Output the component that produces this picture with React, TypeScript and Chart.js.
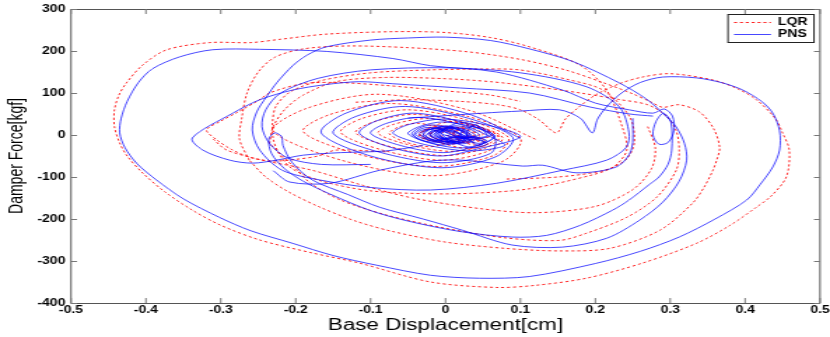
import { useEffect, useRef } from 'react';
import { Chart, registerables } from 'chart.js';

Chart.register(...registerables);

type Pt = [number, number];

const seriesNames = ['LQR', 'PNS'];
const xTickValues = [-0.5, -0.4, -0.3, -0.2, -0.1, 0, 0.1, 0.2, 0.3, 0.4, 0.5];
const yTickValues = [-400, -300, -200, -100, 0, 100, 200, 300];
const xTitle = 'Base Displacement[cm]';
const yTitle = 'Damper Force[kgf]';

// ---- PNS (blue, solid) ----
const pnsOuter: Pt[] = [
  [-0.05, 40], [0.05, 52], [0.1, 57], [0.152, 60], [0.18, 40], [0.196, 5], [0.203, 38], [0.215, 67],
  [0.235, 100], [0.26, 125], [0.29, 138], [0.335, 136], [0.37, 124], [0.397, 107], [0.422, 80],
  [0.437, 52], [0.446, 10], [0.446, -36], [0.437, -76], [0.42, -118], [0.402, -155], [0.36, -200],
  [0.312, -243], [0.26, -277], [0.2, -306], [0.112, -337], [0.045, -341], [-0.02, -334], [-0.092, -310],
  [-0.15, -287], [-0.204, -258], [-0.26, -228], [-0.302, -196], [-0.35, -152], [-0.386, -107],
  [-0.412, -68], [-0.428, -30], [-0.435, 5], [-0.433, 40], [-0.425, 80], [-0.41, 125], [-0.391, 158],
  [-0.355, 186], [-0.311, 203], [-0.248, 204], [-0.159, 199], [-0.07, 182], [-0.02, 165], [0.068, 150],
  [0.156, 107], [0.2, 76], [0.245, 60], [0.277, 52], [0.292, 62], [0.303, 45], [0.305, 10], [0.297, -18],
  [0.285, -22], [0.277, 0], [0.281, 32], [0.291, 52], [0.301, 30], [0.302, -36], [0.297, -70],
  [0.285, -100], [0.272, -118], [0.245, -155], [0.223, -179], [0.18, -215], [0.135, -239], [0.089, -243],
  [0.02, -230], [-0.05, -205], [-0.1, -180], [-0.155, -140], [-0.19, -110], [-0.215, -80], [-0.232, -45],
  [-0.236, -10], [-0.228, 5], [-0.219, -3], [-0.217, -25], [-0.205, -65], [-0.178, -107], [-0.13, -142],
  [-0.088, -172], [-0.03, -200], [0.023, -227], [0.089, -262], [0.156, -267], [0.215, -246],
  [0.259, -203], [0.29, -160], [0.312, -110], [0.322, -60], [0.319, -20], [0.308, 19], [0.29, 52],
  [0.268, 86], [0.232, 124], [0.17, 175], [0.112, 205], [0.06, 225], [0.0, 233], [-0.05, 231],
  [-0.1, 226], [-0.159, 210], [-0.185, 190], [-0.204, 165], [-0.225, 125], [-0.239, 91], [-0.252, 55],
  [-0.258, 12], [-0.248, -36], [-0.218, -84], [-0.168, -107], [-0.1, -125], [-0.02, -131], [0.068, -115],
  [0.156, -84], [0.215, -60], [0.241, -30], [0.245, 5], [0.232, 67], [0.188, 115], [0.1, 148], [0.0, 160],
  [-0.1, 155], [-0.17, 135], [-0.22, 100], [-0.24, 60], [-0.245, 20], [-0.235, -20], [-0.21, -55],
  [-0.166, -70], [-0.1, -70],
];
const pnsArrow: Pt[] = [
  [0.277, 45], [0.246, 50], [0.192, 67], [0.112, 100], [0.019, 112], [-0.07, 122], [-0.115, 127],
  [-0.16, 120], [-0.204, 107], [-0.248, 84], [-0.284, 52], [-0.338, -7], [-0.324, -36], [-0.288, -60],
  [-0.258, -67], [-0.226, -60], [-0.19, -48], [-0.14, -42], [-0.08, -38], [-0.03, -25],
];
const pnsLow: Pt[] = [
  [0.25, 40], [0.248, -36], [0.228, -76], [0.175, -90], [0.13, -72], [0.103, -74], [0.023, -60],
  [-0.02, -62], [-0.088, -84], [-0.155, -115], [-0.208, -112], [-0.23, -85],
];
const pnsRings: Pt[] = [
  [0.1, -8], [0.034, 48], [-0.06, 82], [-0.133, 52], [-0.166, 5], [-0.1, -50], [-0.006, -78], [0.067, -52],
  [0.09, -6], [0.03, 40], [-0.054, 68], [-0.12, 44], [-0.15, 4], [-0.09, -40], [-0.006, -66], [0.06, -44],
  [0.065, -5], [0.02, 31], [-0.043, 52], [-0.093, 33], [-0.115, 4], [-0.07, -31], [-0.007, -50], [0.043, -33],
  [0.1, -4], [0.057, 23], [-0.002, 38], [-0.049, 25], [-0.07, 4], [-0.027, -23], [0.032, -38], [0.079, -25],
  [0.06, -4], [0.02, 25], [-0.036, 42], [-0.08, 27], [-0.1, 4], [-0.06, -25], [-0.004, -42], [0.04, -27],
  [0.066, -3], [0.037, 19], [-0.004, 31], [-0.035, 20], [-0.05, 3], [-0.021, -19], [0.02, -31], [0.051, -20],
  [0.065, -3], [0.048, 18], [0.023, 30], [0.004, 20], [-0.005, 3], [0.012, -18], [0.037, -30], [0.056, -20],
  [0.025, -2], [0.008, 14], [-0.017, 24], [-0.036, 16], [-0.045, 2], [-0.028, -14], [-0.003, -24], [0.016, -16],
  [0.06, -2], [0.05, 12], [0.036, 20], [0.025, 13], [0.02, 2], [0.03, -12], [0.044, -20], [0.055, -13],
  [0.033, -2], [0.019, 12], [-0.001, 20], [-0.016, 13], [-0.023, 2], [-0.009, -12], [0.011, -20], [0.026, -13],
  [0.025, -2], [0.01, 10], [-0.011, 16], [-0.028, 10], [-0.035, 2], [-0.02, -10], [0.001, -16], [0.018, -10],
  [0.04, -2], [0.028, 11], [0.01, 18], [-0.004, 12], [-0.01, 2], [0.003, -11], [0.02, -18], [0.034, -12],
  [0.0, -1], [-0.01, 8], [-0.024, 14], [-0.035, 9], [-0.04, 1], [-0.03, -8], [-0.016, -14], [-0.005, -9],
  [0.02, -1], [0.01, 7], [-0.004, 12], [-0.015, 8], [-0.02, 1], [-0.01, -7], [0.004, -12], [0.015, -8],
  [0.055, -3], [0.048, 15], [0.04, 25], [0.032, 16], [0.028, 2], [0.034, -15], [0.045, -25], [0.052, -16],
  [0.03, -2], [0.02, 10], [0.005, 16], [-0.008, 11], [-0.014, 2], [-0.004, -10], [0.012, -16], [0.025, -11],
  [0.028, 3], [0.015, 15], [-0.005, 19], [-0.022, 12], [-0.03, -2], [-0.018, -15], [0.004, -19], [0.02, -11],
  [0.022, -4], [0.012, 8], [-0.006, 13], [-0.02, 7], [-0.026, -3], [-0.014, -12], [0.004, -15], [0.016, -10],
  [0.045, 0], [0.03, 16], [0.012, 22], [-0.002, 14], [-0.008, 0], [0.004, -15], [0.022, -21], [0.038, -13],
  [0.005, 2], [-0.008, 14], [-0.025, 18], [-0.038, 10], [-0.042, -2], [-0.032, -13], [-0.014, -17], [0.0, -9],
  [0.032, 1], [0.02, 12], [0.002, 17], [-0.014, 10], [-0.02, -1], [-0.008, -12], [0.01, -17], [0.025, -10],
  [0.015, -1], [0.008, 6], [-0.003, 10], [-0.012, 6], [-0.016, 1], [-0.008, -6], [0.004, -10], [0.012, -6],
  [0.035, -3], [0.022, 14], [0.0, 22], [-0.02, 14], [-0.03, 3], [-0.015, -14], [0.008, -22], [0.027, -14],
  [0.01, -1], [0.004, 5], [-0.004, 8], [-0.01, 5], [-0.012, 1], [-0.006, -5], [0.003, -8], [0.008, -5], [0.0, 0],
];

// ---- LQR (red, dotted) ----
const lqrOuter: Pt[] = [
  [-0.12, 78], [-0.05, 84], [0.02, 80], [0.07, 72], [0.1, 60], [0.125, 36], [0.148, 5], [0.16, 38],
  [0.175, 62], [0.2, 95], [0.232, 122], [0.263, 138], [0.3, 146], [0.357, 131], [0.39, 110], [0.415, 84],
  [0.44, 40], [0.45, 5], [0.459, -36], [0.455, -100], [0.435, -145], [0.415, -172], [0.38, -215],
  [0.335, -258], [0.263, -305], [0.188, -341], [0.12, -358], [0.068, -363], [-0.02, -350], [-0.115, -305],
  [-0.18, -280], [-0.248, -250], [-0.3, -215], [-0.338, -179], [-0.375, -135], [-0.404, -91],
  [-0.425, -50], [-0.435, -19], [-0.442, 20], [-0.442, 60], [-0.436, 95], [-0.426, 124], [-0.404, 167],
  [-0.372, 203], [-0.315, 220], [-0.26, 220], [-0.22, 228], [-0.16, 240], [-0.07, 246], [0.0, 244],
  [0.06, 232], [0.112, 210], [0.179, 167], [0.215, 107], [0.236, 19], [0.242, -36], [0.225, -75],
  [0.196, -95], [0.112, -128], [0.045, -138], [-0.02, -140], [-0.1, -133], [-0.165, -110], [-0.205, -80],
  [-0.222, -45], [-0.23, -10], [-0.231, 29], [-0.226, 70], [-0.205, 105], [-0.165, 130], [-0.1, 148],
  [-0.02, 155], [0.05, 157], [0.099, 155], [0.166, 131], [0.21, 107], [0.246, 43], [0.252, -19],
  [0.24, -60], [0.21, -85], [0.15, -100], [0.08, -105],
];
const lqrLoopB: Pt[] = [
  [-0.262, -60], [-0.275, -10], [-0.272, 40], [-0.265, 100], [-0.25, 150], [-0.228, 185], [-0.19, 205],
  [-0.13, 212], [-0.05, 208], [0.03, 198], [0.1, 180], [0.16, 155], [0.21, 125], [0.25, 98], [0.275, 78],
  [0.29, 66], [0.312, 72], [0.339, 55], [0.358, 15], [0.366, -30], [0.362, -60], [0.357, -84],
  [0.345, -125], [0.33, -162], [0.286, -227], [0.219, -270], [0.152, -276], [0.08, -270], [0.0, -255],
  [-0.07, -230], [-0.12, -205], [-0.17, -170], [-0.21, -135], [-0.24, -100], [-0.262, -60],
];
const lqrLoopC: Pt[] = [
  [-0.235, -20], [-0.23, 20], [-0.215, 60], [-0.19, 95], [-0.146, 127], [-0.08, 137], [0.0, 134],
  [0.06, 127], [0.12, 115], [0.18, 100], [0.23, 85], [0.27, 72], [0.295, 45], [0.308, 10], [0.312, -36],
  [0.308, -84], [0.282, -148], [0.242, -196], [0.188, -234], [0.152, -251], [0.08, -245], [0.0, -222],
  [-0.08, -190], [-0.14, -155], [-0.18, -115], [-0.2, -80], [-0.215, -55], [-0.235, -20],
];
const lqrArrow: Pt[] = [
  [-0.08, -40], [-0.146, -36], [-0.17, -50], [-0.2, -58], [-0.23, -62], [-0.258, -55], [-0.285, -35],
  [-0.305, -12], [-0.319, 12], [-0.3, 33], [-0.279, 53], [-0.25, 82], [-0.235, 100], [-0.191, 122],
  [-0.146, 125], [-0.08, 118], [0.0, 105], [0.06, 95], [0.1, 80],
];
const lqrLow: Pt[] = [
  [0.27, 20], [0.28, -30], [0.275, -80], [0.25, -130], [0.2, -170], [0.12, -185], [0.045, -175],
  [-0.044, -150], [-0.11, -120], [-0.178, -84], [-0.244, -60], [-0.292, -36], [-0.31, -10],
];
const lqrRings: Pt[] = [
  [0.12, -10], [0.033, 58], [-0.09, 97], [-0.186, 63], [-0.23, 10], [-0.143, -58], [-0.02, -97], [0.076, -63],
  [0.1, -8], [0.028, 45], [-0.074, 75], [-0.154, 49], [-0.19, 8], [-0.118, -45], [-0.016, -75], [0.064, -49],
  [0.084, -6], [0.028, 36], [-0.05, 60], [-0.112, 39], [-0.14, 6], [-0.084, -36], [-0.006, -60], [0.056, -39],
  [0.076, -5], [0.027, 29], [-0.042, 49], [-0.095, 32], [-0.12, 5], [-0.071, -29], [-0.002, -49], [0.052, -32],
  [0.072, -4], [0.032, 23], [-0.025, 39], [-0.07, 25], [-0.09, 4], [-0.05, -23], [0.007, -39], [0.052, -25],
  [0.07, -3], [0.045, 19], [0.01, 32], [-0.017, 21], [-0.03, 3], [-0.005, -19], [0.03, -32], [0.057, -21],
  [0.015, -3], [-0.008, 17], [-0.039, 28], [-0.064, 18], [-0.075, 3], [-0.053, -17], [-0.021, -28], [0.004, -18],
  [0.035, -2], [0.018, 13], [-0.007, 22], [-0.026, 14], [-0.035, 2], [-0.018, -13], [0.007, -22], [0.026, -14],
  [0.062, -2], [0.05, 15], [0.032, 24], [0.018, 15], [0.01, 2], [0.022, -15], [0.04, -24], [0.055, -15],
  [0.03, -1], [0.018, 10], [0.0, 16], [-0.015, 10], [-0.022, 1], [-0.01, -10], [0.008, -16], [0.022, -10],
  [0.02, 2], [0.008, 13], [-0.012, 18], [-0.028, 11], [-0.034, -1], [-0.022, -12], [-0.002, -17], [0.013, -10],
  [0.045, -2], [0.032, 12], [0.014, 18], [0.0, 11], [-0.006, -1], [0.006, -12], [0.024, -18], [0.038, -11],
  [0.05, 2], [0.04, 14], [0.026, 20], [0.014, 12], [0.01, -1], [0.02, -13], [0.035, -19], [0.046, -11],
  [0.01, 1], [0.0, 12], [-0.016, 16], [-0.03, 9], [-0.035, -2], [-0.025, -12], [-0.008, -15], [0.005, -8],
  [0.04, 0], [0.026, 14], [0.005, 20], [-0.013, 12], [-0.02, -1], [-0.006, -14], [0.016, -20], [0.032, -12],
  [0.015, 0], [0.006, 8], [-0.008, 11], [-0.018, 6], [-0.021, -1], [-0.013, -8], [0.0, -11], [0.01, -6], [0.0, 0],
];

const lqrSegments: Pt[][] = [lqrOuter, lqrLoopB, lqrLoopC, lqrArrow, lqrLow, lqrRings];
const pnsSegments: Pt[][] = [pnsOuter, pnsArrow, pnsLow, pnsRings];

const RED = 'rgba(255,0,0,0.85)';
const BLUE = 'rgba(0,0,255,0.72)';
const FONT = "'Liberation Sans', Arial, Helvetica, sans-serif";

// canvas is drawn narrower and stretched horizontally by CSS (matches the wide lettering)
const CSS_W = 830;
const CSS_H = 337;
const CANVAS_W = 593;
const SX = CSS_W / CANVAS_W;

function toData(segs: Pt[][]) {
  const out: { x: number; y: number | null }[] = [];
  segs.forEach((seg) => {
    seg.forEach(([x, y]) => out.push({ x, y }));
    out.push({ x: seg[seg.length - 1][0], y: null });
  });
  return out;
}

const framePlugin = {
  id: 'matlabFrame',
  afterDatasetsDraw(chart: any) {
    const { ctx, chartArea: a, scales } = chart;
    const xs = scales.x;
    const ys = scales.y;
    ctx.save();
    ctx.strokeStyle = '#555555';
    ctx.lineWidth = 1;
    ctx.beginPath();
    ctx.rect(a.left, Math.round(a.top) + 0.5, a.right - a.left, Math.round(a.bottom) - Math.round(a.top));
    ctx.stroke();
    ctx.strokeStyle = '#777777';
    ctx.beginPath();
    xTickValues.forEach((v) => {
      const px = xs.getPixelForValue(v);
      ctx.moveTo(px, a.bottom);
      ctx.lineTo(px, a.bottom - 5);
      ctx.moveTo(px, a.top);
      ctx.lineTo(px, a.top + 5);
    });
    yTickValues.forEach((v) => {
      const py = Math.round(ys.getPixelForValue(v)) + 0.5;
      ctx.moveTo(a.left, py);
      ctx.lineTo(a.left + 4.3, py);
      ctx.moveTo(a.right, py);
      ctx.lineTo(a.right - 4.3, py);
    });
    ctx.stroke();

    // legend box
    const bx0 = 728 / SX;
    const bx1 = 814 / SX;
    const by0 = 14.5;
    const by1 = 42.5;
    ctx.fillStyle = '#ffffff';
    ctx.fillRect(bx0, by0, bx1 - bx0, by1 - by0);
    ctx.strokeStyle = '#222222';
    ctx.strokeRect(bx0, by0, bx1 - bx0, by1 - by0);
    const rows = [22, 34];
    chart.data.datasets.forEach((ds: any, i: number) => {
      const y = rows[i] + 0.5;
      ctx.save();
      ctx.strokeStyle = ds.borderColor;
      ctx.lineWidth = 1;
      ctx.setLineDash(ds.borderDash || []);
      ctx.beginPath();
      ctx.moveTo(734 / SX, y);
      ctx.lineTo(771 / SX, y);
      ctx.stroke();
      ctx.restore();
      ctx.fillStyle = '#000000';
      ctx.font = `bold 10px ${FONT}`;
      ctx.textAlign = 'left';
      ctx.textBaseline = 'middle';
      ctx.fillText(ds.label, 778 / SX, y);
    });
    ctx.restore();
  },
};

export default function App() {
  const canvasRef = useRef<HTMLCanvasElement | null>(null);

  useEffect(() => {
    const canvas = canvasRef.current;
    if (!canvas) return;
    const chart = new Chart(canvas, {
      type: 'scatter',
      data: {
        datasets: [
          {
            label: seriesNames[0],
            data: toData(lqrSegments),
            showLine: true,
            borderColor: RED,
            backgroundColor: RED,
            borderWidth: 1,
            borderDash: [2.2, 2],
            pointRadius: 0,
            tension: 0.3,
            order: 2,
          },
          {
            label: seriesNames[1],
            data: toData(pnsSegments),
            showLine: true,
            borderColor: BLUE,
            backgroundColor: BLUE,
            borderWidth: 1,
            pointRadius: 0,
            tension: 0.3,
            order: 1,
          },
        ],
      } as any,
      options: {
        responsive: false,
        maintainAspectRatio: false,
        animation: false,
        devicePixelRatio: 1,
        spanGaps: false,
        layout: { padding: { top: 9, right: CANVAS_W - 820 / SX, left: 0, bottom: 0 } },
        plugins: {
          legend: { display: false },
          tooltip: { enabled: false },
        },
        scales: {
          x: {
            type: 'linear',
            min: -0.5,
            max: 0.5,
            afterBuildTicks: (s: any) => {
              s.ticks = xTickValues.map((v) => ({ value: v }));
            },
            afterFit: (s: any) => {
              s.height = 34;
              s.paddingLeft = 0;
              s.paddingRight = 0;
            },
            grid: { display: false, drawTicks: false },
            border: { display: false },
            ticks: {
              autoSkip: false,
              maxRotation: 0,
              minRotation: 0,
              padding: 1,
              color: '#000000',
              font: { family: FONT, size: 10, weight: 'bold' },
              callback: (v: any) => (Number(v) === 0 ? '0' : Number(v).toFixed(1)),
            },
            title: {
              display: true,
              text: xTitle,
              color: '#000000',
              font: { family: FONT, size: 16, weight: 'normal' },
              padding: { top: 0, bottom: 2 },
            },
          },
          y: {
            type: 'linear',
            min: -400,
            max: 300,
            afterBuildTicks: (s: any) => {
              s.ticks = yTickValues.map((v) => ({ value: v }));
            },
            afterFit: (s: any) => {
              s.width = 71 / SX;
              s.paddingTop = 0;
              s.paddingBottom = 0;
            },
            grid: { display: false, drawTicks: false },
            border: { display: false },
            ticks: {
              autoSkip: false,
              padding: 4,
              color: '#000000',
              font: { family: FONT, size: 10, weight: 'bold' },
              callback: (v: any) => String(v),
            },
            title: {
              display: true,
              text: yTitle,
              color: '#000000',
              font: { family: FONT, size: 14, weight: 'normal' },
              padding: { top: 4, bottom: 0 },
            },
          },
        },
      } as any,
      plugins: [framePlugin],
    });
    return () => chart.destroy();
  }, []);

  return (
    <div style={{ position: 'fixed', left: 0, top: 0, width: CSS_W, height: CSS_H, background: '#ffffff' }}>
      <canvas
        ref={canvasRef}
        width={CANVAS_W}
        height={CSS_H}
        style={{ display: 'block', width: `${CSS_W}px`, height: `${CSS_H}px` }}
      />
    </div>
  );
}
